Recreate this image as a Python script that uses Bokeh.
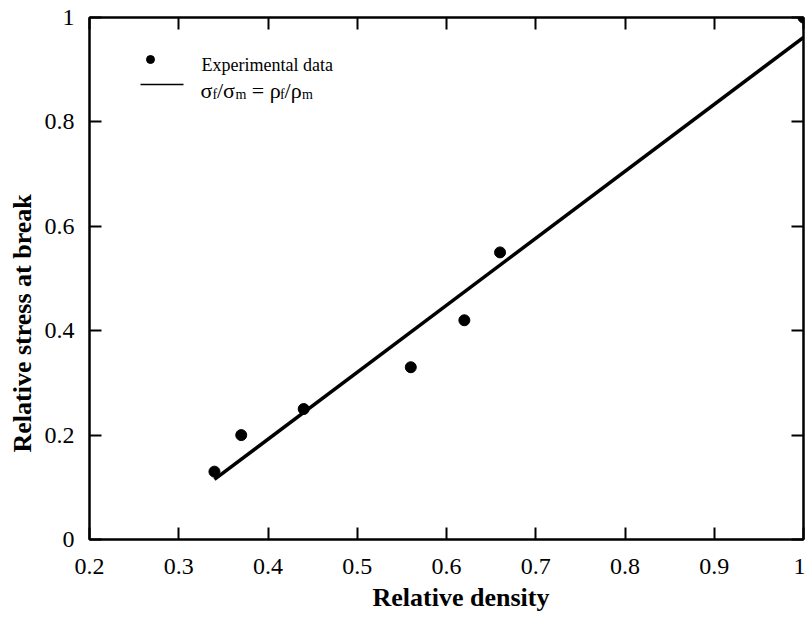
import numpy as np
from bokeh.plotting import figure
from bokeh.models import Range1d, LinearAxis, FixedTicker, Label, ColumnDataSource, CustomJSTickFormatter, Title
from bokeh.embed import file_html
from bokeh.resources import INLINE

# ---- data ----
density = [0.34, 0.37, 0.44, 0.56, 0.62, 0.66, 1.0]
stress = [0.13, 0.20, 0.25, 0.33, 0.42, 0.55, 1.0]
fit_density = [0.34, 1.0]
fit_stress = [0.115, 0.962]
x_ticks = [0.2, 0.3, 0.4, 0.5, 0.6, 0.7, 0.8, 0.9, 1.0]
x_tick_labels = ["0.2", "0.3", "0.4", "0.5", "0.6", "0.7", "0.8", "0.9", "1"]
y_ticks = [0.0, 0.2, 0.4, 0.6, 0.8, 1.0]
y_tick_labels = ["0", "0.2", "0.4", "0.6", "0.8", "1"]
x_title = "Relative density"
y_title = "Relative stress at break"
legend_points = "Experimental data"

FONT = "Liberation Serif"

# frame geometry in page pixels (for placing annotations)
FL, FR, FT, FB = 89.0, 803.0, 17.0, 539.0
def px2x(px):
    return 0.2 + (px - FL) / (FR - FL) * 0.8
def py2y(py):
    return (FB - py) / (FB - FT)

p = figure(width=805, height=620,
           x_range=Range1d(0.2, 1.0), y_range=Range1d(0.0, 1.0),
           output_backend="svg", toolbar_location=None,
           x_axis_location=None, y_axis_location=None,
           min_border_left=89, min_border_right=2, min_border_top=17, min_border_bottom=81)
p.grid.visible = False
p.outline_line_color = "black"
p.outline_line_width = 2
p.background_fill_color = "white"
p.border_fill_color = "white"

def make_axis(ticks, labels, show):
    ax = LinearAxis()
    ax.ticker = FixedTicker(ticks=ticks)
    if show:
        ax.major_label_overrides = {t: l for t, l in zip(ticks, labels)}
        ax.major_label_text_font = FONT
        ax.major_label_text_font_size = "24px"
        ax.major_label_text_color = "black"
    else:
        ax.formatter = CustomJSTickFormatter(code="return ''")
    ax.major_tick_in = 12
    ax.major_tick_out = 0
    ax.minor_tick_in = 0
    ax.minor_tick_out = 0
    ax.axis_line_width = 2
    ax.axis_line_color = "black"
    ax.major_tick_line_width = 2
    ax.major_tick_line_color = "black"
    return ax

bottom = make_axis(x_ticks, x_tick_labels, True)
bottom.major_label_standoff = 19
left = make_axis(y_ticks, y_tick_labels, True)
left.major_label_standoff = 15
top = make_axis(x_ticks, x_tick_labels, False)
right = make_axis(y_ticks, y_tick_labels, False)
p.add_layout(bottom, "below")
p.add_layout(left, "left")
p.add_layout(top, "above")
p.add_layout(right, "right")

# ---- axis titles (side titles, shifted along the frame) ----
p.add_layout(Title(text=x_title, text_font=FONT, text_font_size="26px", text_font_style="bold",
                   text_color="black", align="left", offset=283, standoff=8), "below")
p.add_layout(Title(text=y_title, text_font=FONT, text_font_size="26px", text_font_style="bold",
                   text_color="black", align="left", vertical_align="middle",
                   offset=87, standoff=8), "left")

# ---- data marks ----
src_pts = ColumnDataSource(dict(x=density, y=stress))
src_fit = ColumnDataSource(dict(x=fit_density, y=fit_stress))
p.line("x", "y", source=src_fit, line_color="black", line_width=3.5)
p.scatter("x", "y", source=src_pts, size=11, fill_color="black", line_color="black")

# ---- legend ----
key_dot = ColumnDataSource(dict(x=[px2x(150)], y=[py2y(59)]))
key_line = ColumnDataSource(dict(x=[px2x(140), px2x(183)], y=[py2y(84), py2y(84)]))
p.scatter("x", "y", source=key_dot, size=8, fill_color="black", line_color="black")
p.line("x", "y", source=key_line, line_color="black", line_width=1.5)

p.add_layout(Label(x=px2x(201), y=py2y(64), text=legend_points, text_font=FONT,
                   text_font_size="18px", text_color="black",
                   text_align="left", text_baseline="alphabetic"))

# formula sigma_f/sigma_m = rho_f/rho_m built from pieces
NB = "\u00a0"
pieces = [("σ", False, 0.0), ("f", True, 12.0), ("/σ", False, 16.4), ("m", True, 35.0),
          (NB + "=" + NB + "ρ", False, 45.8), ("f", True, 79.6), ("/ρ", False, 84.1), ("m", True, 101.5)]
x0 = 200.0
for txt, sub, off in pieces:
    p.add_layout(Label(x=px2x(x0 + off), y=py2y(94 if sub else 90), text=txt, text_font=FONT,
                       text_font_size="14px" if sub else "22px", text_color="black",
                       text_align="left", text_baseline="alphabetic"))

open("out.html", "w").write(file_html(p, INLINE))
